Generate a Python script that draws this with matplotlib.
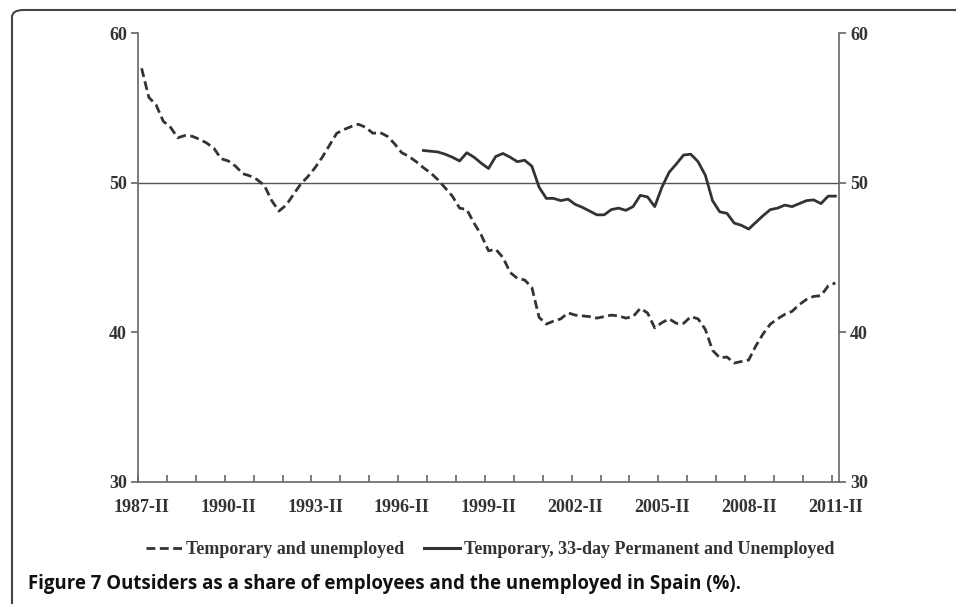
import matplotlib
matplotlib.use("Agg")
import matplotlib.pyplot as plt
from matplotlib.patches import FancyBboxPatch
from matplotlib.lines import Line2D
import numpy as np

# Quarters 1987-II .. 2011-II
quarters = []
for yr in range(1987, 2012):
    for q in ["I", "II", "III", "IV"]:
        quarters.append(f"{yr}-{q}")
quarters = quarters[1:quarters.index("2011-II") + 1]

tick_labels = ["1987-II", "1990-II", "1993-II", "1996-II", "1999-II",
               "2002-II", "2005-II", "2008-II", "2011-II"]

temp_unemployed = [
    57.64, 55.7, 55.2, 54.1, 53.7, 53.0, 53.15, 53.1, 52.9, 52.65,
    52.3, 51.6, 51.45, 51.1, 50.6, 50.45, 50.2, 49.8, 48.8, 48.1,
    48.5, 49.2, 49.9, 50.4, 51.0, 51.7, 52.5, 53.3, 53.55, 53.75,
    53.9, 53.7, 53.3, 53.35, 53.1, 52.6, 52.0, 51.75, 51.4, 51.0,
    50.65, 50.2, 49.65, 49.1, 48.3, 48.2, 47.3, 46.5, 45.45, 45.55,
    45.0, 44.0, 43.6, 43.5, 43.0, 41.0, 40.55, 40.75, 40.9, 41.3,
    41.15, 41.1, 41.05, 40.95, 41.05, 41.15, 41.1, 40.95, 41.05, 41.6,
    41.3, 40.3, 40.65, 40.9, 40.6, 40.6, 41.05, 40.9, 40.2, 38.8,
    38.3, 38.35, 37.95, 38.05, 38.15, 39.1, 39.9, 40.55, 40.9, 41.2,
    41.4, 41.85, 42.2, 42.4, 42.45, 43.1, 43.3,
]

temp_33day_unemployed = [np.nan] * 39 + [
    52.15, 52.1, 52.05, 51.9, 51.7, 51.45, 52.0, 51.7, 51.3, 50.95,
    51.75, 51.95, 51.7, 51.4, 51.5, 51.1, 49.7, 48.95, 48.95, 48.8,
    48.9, 48.55, 48.35, 48.1, 47.85, 47.85, 48.2, 48.3, 48.15, 48.4,
    49.15, 49.05, 48.4, 49.7, 50.7, 51.25, 51.85, 51.9, 51.4, 50.5,
    48.8, 48.05, 47.95, 47.3, 47.15, 46.9, 47.35, 47.8, 48.2, 48.3,
    48.5, 48.4, 48.6, 48.8, 48.85, 48.6, 49.1, 49.1,
]

series_names = ["Temporary and unemployed",
                "Temporary, 33-day Permanent and Unemployed"]
caption = "Figure 7 Outsiders as a share of employees and the unemployed in Spain (%)."

W, H = 956, 604
fig = plt.figure(figsize=(W / 100, H / 100), dpi=100)
fig.patch.set_facecolor("white")

serif = ["Liberation Serif", "DejaVu Serif"]
ink = "#333333"
axc = "#666666"

ax = fig.add_axes([138 / W, 1 - 482 / H, (839 - 138) / W, (482 - 33) / H])
x = np.arange(len(quarters))
ax.plot(x, temp_unemployed, color=ink, lw=2.0, ls=(0, (3.2, 1.6)), zorder=3)
ax.plot(x, temp_33day_unemployed, color=ink, lw=2.0, ls="-", zorder=3)
ax.axhline(50, color="#555555", lw=1.0, zorder=2)

ax.set_xlim(-0.5, len(quarters) - 0.5)
ax.set_ylim(30, 60)

ax.spines["top"].set_visible(False)
for s in ["left", "right", "bottom"]:
    ax.spines[s].set_color(axc)
    ax.spines[s].set_linewidth(1.2)

ax.set_yticks([30, 40, 50, 60])
ax.tick_params(axis="y", which="both", left=True, right=True, labelleft=True,
               labelright=True, direction="out", length=5, width=1.2,
               color=axc, pad=3)
for lab in ax.get_yticklabels():
    lab.set_family(serif)
    lab.set_fontsize(13)
    lab.set_fontweight("bold")
    lab.set_color(ink)

pos = [quarters.index(t) for t in tick_labels]
ax.set_xticks(pos)
ax.set_xticklabels(tick_labels, family=serif, fontsize=13, fontweight="bold",
                   color=ink)
ax.tick_params(axis="x", which="major", length=0, pad=12)
ax.set_xticks(np.arange(-0.5, len(quarters) - 0.5, 4), minor=True)
ax.tick_params(axis="x", which="minor", direction="in", length=5, width=1.2,
               color=axc)

handles = [Line2D([], [], color=ink, lw=2.0, ls=(0, (3.2, 1.6))),
           Line2D([], [], color=ink, lw=2.2, ls="-")]
leg = fig.legend(handles, series_names, loc="center",
                 bbox_to_anchor=(490 / W, 1 - 550 / H), ncol=2, frameon=False,
                 prop={"family": serif, "size": 13, "weight": "bold"},
                 handlelength=2.0, handletextpad=0.2, columnspacing=1.1)
for t in leg.get_texts():
    t.set_color(ink)

fig.text(28 / W, 1 - 584 / H, caption, ha="left", va="center",
         family=["Open Sans", "DejaVu Sans"], fontweight="bold", fontsize=13.4,
         color="#111111")

border = FancyBboxPatch((12 / W, -0.05), 1.2, 1 - 10 / H + 0.05,
                        boxstyle="round,pad=0,rounding_size=0.012",
                        transform=fig.transFigure, fill=False,
                        edgecolor="#444444", lw=1.5, clip_on=False)
fig.patches.append(border)

fig.savefig("out.png", dpi=100)
